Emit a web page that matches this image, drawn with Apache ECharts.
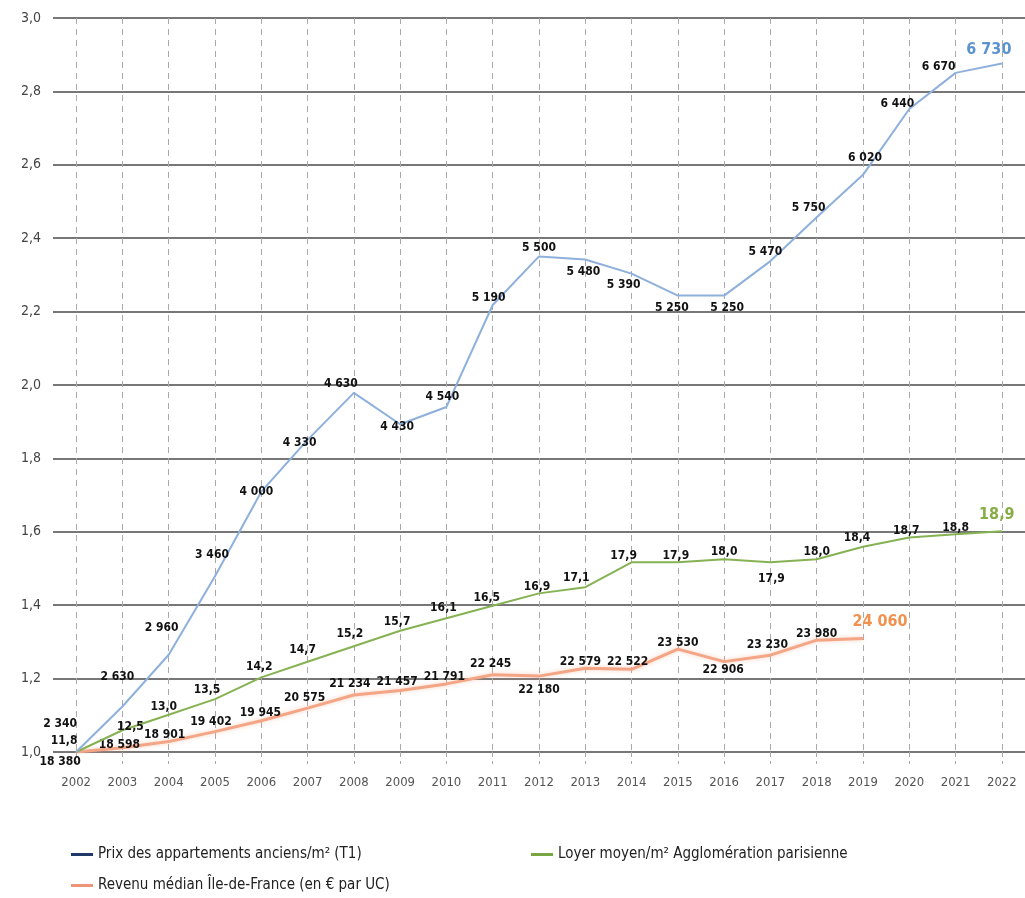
<!DOCTYPE html>
<html>
<head>
<meta charset="utf-8">
<script src="https://cdn.jsdelivr.net/npm/echarts@6/dist/echarts.min.js"></script>
<style>
html,body{margin:0;padding:0;background:#fff;}
#chart{width:1025px;height:898px;}
</style>
</head>
<body>
<div id="chart"></div>
<script>
// ---- Data ----
const years = ['2002','2003','2004','2005','2006','2007','2008','2009','2010','2011','2012','2013','2014','2015','2016','2017','2018','2019','2020','2021','2022'];
const prix = [2340,2630,2960,3460,4000,4330,4630,4430,4540,5190,5500,5480,5390,5250,5250,5470,5750,6020,6440,6670,6730];
const loyer = [11.8,12.5,13.0,13.5,14.2,14.7,15.2,15.7,16.1,16.5,16.9,17.1,17.9,17.9,18.0,17.9,18.0,18.4,18.7,18.8,18.9];
const revenu = [18380,18598,18901,19402,19945,20575,21234,21457,21791,22245,22180,22579,22522,23530,22906,23230,23980,24060];
const yTicks = [1.0,1.2,1.4,1.6,1.8,2.0,2.2,2.4,2.6,2.8,3.0];
const seriesNames = ['Prix des appartements anciens/m² (T1)','Loyer moyen/m² Agglomération parisienne','Revenu médian Île-de-France (en € par UC)'];

// ---- Label placement (pixel offsets from each point) ----
const prixOff = [[-16,-28],[-5,-30],[-7,-27],[-3,-21],[-5,0],[-8,3],[-13,-9],[-3,3],[-4,-10],[-4,-7],[0,-9],[-2,12],[-8,11],[-6,12],[3,12],[-5,-9],[-8,-9],[2,-17],[-12,-5],[-17,-6],[-13,-14]];
const loyerOff = [[-12,-11],[8,-3],[-5,-8],[-8,-9],[-2,-10],[-5,-12],[-4,-12],[-3,-9],[-3,-10],[-6,-8],[-2,-7],[-9,-9],[-8,-6],[-2,-6],[0,-7],[1,17],[0,-7],[-6,-9],[-3,-7],[0,-6],[-5,-16]];
const revOff = [[-16,10],[-3,-3],[-4,-7],[-4,-10],[-1,-8],[-3,-10],[-4,-11],[-3,-9],[-2,-7],[-2,-11],[0,14],[-5,-6],[-4,-7],[0,-6],[-1,8],[-3,-10],[0,-6],[17,-17]];

const fmtThousands = v => String(v).replace(/\B(?=(\d{3})+(?!\d))/g, ' ');
const fmtDec = v => v.toFixed(1).replace('.', ',');

const labelFont = "'Liberation Sans Narrow','DejaVu Sans Condensed',sans-serif";

function build(values, offs, fmt, lastColor) {
  const base = values[0];
  return values.map((v, i) => {
    const last = i === values.length - 1;
    return {
      value: v / base,
      label: {
        show: true,
        position: 'inside',
        offset: offs[i],
        formatter: fmt(v),
        color: last ? lastColor : '#111',
        fontSize: last ? 16 : 12,
        fontWeight: 'bold',
        fontFamily: labelFont
      }
    };
  });
}

const blueLine = '#8eb0dc';
const greenLine = '#86b254';
const orangeLine = '#f3a585';

const chart = echarts.init(document.getElementById('chart'), null, {renderer: 'canvas'});
const legendText = {color: '#222', fontSize: 15, fontFamily: labelFont};

chart.setOption({
  animation: false,
  backgroundColor: '#fff',
  grid: {left: 53, right: -6, top: 18, bottom: 146, containLabel: false},
  legend: [
    {left: 66, top: 842, icon: 'rect', itemWidth: 22, itemHeight: 3, textStyle: legendText,
     data: [{name: seriesNames[0], itemStyle: {color: '#1f3a68'}}]},
    {left: 526, top: 842, icon: 'rect', itemWidth: 22, itemHeight: 3, textStyle: legendText,
     data: [{name: seriesNames[1], itemStyle: {color: '#78a640'}}]},
    {left: 66, top: 873, icon: 'rect', itemWidth: 22, itemHeight: 3, textStyle: legendText,
     data: [{name: seriesNames[2], itemStyle: {color: '#ee9478'}}]}
  ],
  xAxis: {
    type: 'category',
    data: years,
    boundaryGap: true,
    axisLine: {show: false},
    axisTick: {show: true, alignWithLabel: true, length: 12, lineStyle: {color: '#aaa', type: [5,4]}},
    axisLabel: {color: '#555', fontSize: 13, margin: 24, fontFamily: labelFont},
    splitLine: {show: true, alignWithLabel: true, lineStyle: {color: '#aaa', width: 1, type: [6,5]}}
  },
  yAxis: {
    type: 'value',
    min: 1.0,
    max: 3.0,
    interval: 0.2,
    axisLine: {show: false},
    axisTick: {show: false},
    axisLabel: {color: '#444', fontSize: 14, margin: 12, fontFamily: labelFont,
      formatter: v => fmtDec(yTicks.reduce((a, b) => Math.abs(b - v) < Math.abs(a - v) ? b : a))},
    splitLine: {show: true, lineStyle: {color: '#4a4a4a', width: 1.5}}
  },
  series: [
    {
      name: seriesNames[0], type: 'line', symbol: 'circle', symbolSize: 1, showSymbol: true,
      itemStyle: {color: blueLine},
      lineStyle: {color: blueLine, width: 2},
      data: build(prix, prixOff, fmtThousands, '#5b93cf'),
      z: 4
    },
    {
      name: seriesNames[1], type: 'line', symbol: 'circle', symbolSize: 1, showSymbol: true,
      itemStyle: {color: greenLine},
      lineStyle: {color: greenLine, width: 2},
      data: build(loyer, loyerOff, fmtDec, '#86ad46'),
      z: 3
    },
    {
      name: seriesNames[2], type: 'line', symbol: 'circle', symbolSize: 1, showSymbol: true,
      itemStyle: {color: orangeLine},
      lineStyle: {color: orangeLine, width: 3, shadowColor: 'rgba(243,165,133,0.5)', shadowBlur: 4},
      data: build(revenu, revOff, fmtThousands, '#f0924f'),
      z: 2
    }
  ]
});
</script>
</body>
</html>
